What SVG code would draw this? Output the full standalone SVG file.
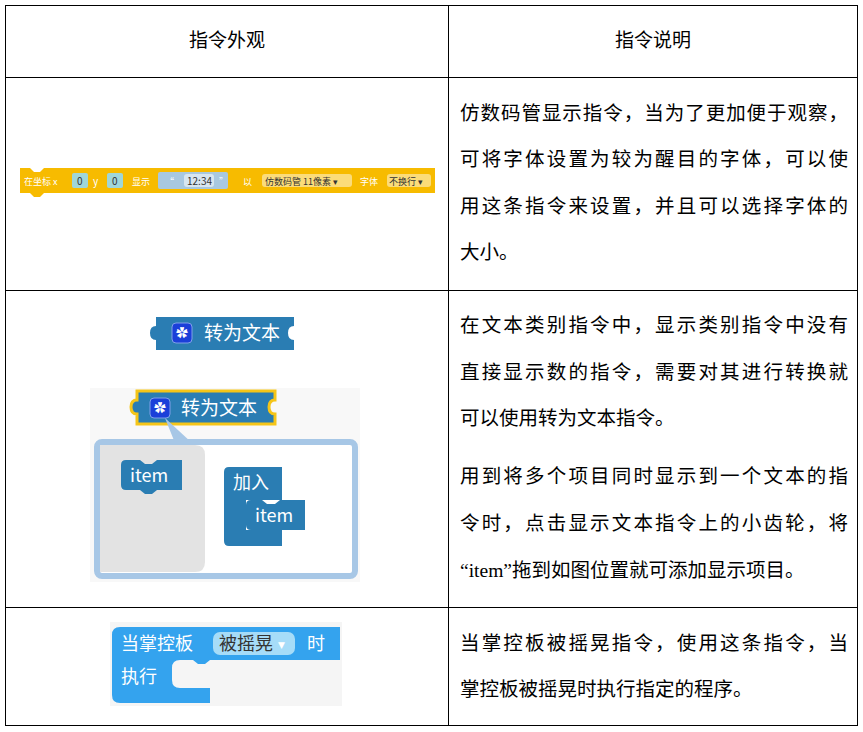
<svg xmlns="http://www.w3.org/2000/svg" width="863" height="732" viewBox="0 0 863 732">
<style>
.t{font-family:"Liberation Serif","Noto Sans CJK SC",serif;font-size:19.5px;fill:#000}
.h{font-family:"Liberation Serif","Noto Sans CJK SC",serif;font-size:19px;fill:#000;text-anchor:middle}
.w{font-family:"Noto Sans CJK SC",sans-serif;fill:#fff}
.k{font-family:"Noto Sans CJK SC",sans-serif;fill:#333}
.ln{stroke:#000;stroke-width:1;fill:none}
.b2{fill:#2a7db3}
</style>
<rect width="863" height="732" fill="#fff"/>
<g id="table">
<rect x="5.5" y="5.5" width="852" height="720" class="ln"/>
<line x1="448.5" y1="5" x2="448.5" y2="726" class="ln"/>
<line x1="5" y1="77.5" x2="858" y2="77.5" class="ln"/>
<line x1="5" y1="290.5" x2="858" y2="290.5" class="ln"/>
<line x1="5" y1="607.5" x2="858" y2="607.5" class="ln"/>
</g>
<g id="header">
<text class="h" x="227" y="47">指令外观</text>
<text class="h" x="653" y="47">指令说明</text>
</g>
<g id="row1-text">
<text class="t" x="460" y="120" textLength="388">仿数码管显示指令，当为了更加便于观察，</text>
<text class="t" x="460" y="166" textLength="388">可将字体设置为较为醒目的字体，可以使</text>
<text class="t" x="460" y="213" textLength="388">用这条指令来设置，并且可以选择字体的</text>
<text class="t" x="460" y="259">大小。</text>
</g>
<g id="row2-text">
<text class="t" x="460" y="332" textLength="388">在文本类别指令中，显示类别指令中没有</text>
<text class="t" x="460" y="379" textLength="388">直接显示数的指令，需要对其进行转换就</text>
<text class="t" x="460" y="425">可以使用转为文本指令。</text>
<text class="t" x="460" y="483" textLength="388">用到将多个项目同时显示到一个文本的指</text>
<text class="t" x="460" y="530" textLength="388">令时，点击显示文本指令上的小齿轮，将</text>
<text class="t" x="460" y="577">“item”拖到如图位置就可添加显示项目。</text>
</g>
<g id="row3-text">
<text class="t" x="460" y="650" textLength="388">当掌控板被摇晃指令，使用这条指令，当</text>
<text class="t" x="460" y="696">掌控板被摇晃时执行指定的程序。</text>
</g>
<g id="block-display">
<path d="M20,168 H30 L34,172 H40 L44,168 H435 V193 H44 L40,197 H34 L30,193 H20 Z" fill="#f7bb00"/>
<text class="w" x="24" y="185" font-size="9">在坐标 x</text>
<rect x="72" y="173" width="16" height="15" rx="2" fill="#9fd6d9"/>
<text class="k" x="77" y="185" font-size="10">0</text>
<text class="w" x="93" y="185" font-size="10">y</text>
<rect x="107" y="173" width="16" height="15" rx="2" fill="#9fd6d9"/>
<text class="k" x="112" y="185" font-size="10">0</text>
<text class="w" x="132" y="185" font-size="9">显示</text>
<rect x="158" y="172" width="70" height="17" rx="2" fill="#a8c8e0"/>
<text class="w" x="165" y="185" font-size="9">“</text>
<rect x="184" y="174" width="30" height="13" rx="3" fill="#d8e6f0"/>
<text class="k" x="187" y="185" font-size="10">12:34</text>
<text class="w" x="219" y="185" font-size="9">”</text>
<text class="w" x="243" y="185" font-size="9">以</text>
<rect x="262" y="174" width="90" height="13" rx="3" fill="#fbdc7a"/>
<text class="k" x="265" y="185" font-size="9">仿数码管 11像素 ▾</text>
<text class="w" x="360" y="185" font-size="9">字体</text>
<rect x="387" y="174" width="44" height="13" rx="3" fill="#fbdc7a"/>
<text class="k" x="389" y="185" font-size="9">不换行 ▾</text>
</g>
<g id="block-totext">
<path d="M160,317 H298 V326 Q292,326 292,333 Q292,340 298,340 V350 H160 V340 Q154,340 154,333 Q154,326 160,326 Z" class="b2" transform="translate(-4,0)"/>
<rect x="172" y="323" width="20" height="20" rx="4" fill="#1b3fd9" stroke="#7fa0e8"/>
<text class="w" x="176" y="338" font-size="12">✿</text>
<text class="w" x="204" y="340" font-size="19">转为文本</text>
</g>
<g id="mutator">
<rect x="90" y="388" width="270" height="194" fill="#f8f8f8"/>
<path d="M137,391 H275 V400 Q269,400 269,407 Q269,414 275,414 V424 H137 V414 Q131,414 131,407 Q131,400 137,400 Z" class="b2" stroke="#f5c518" stroke-width="3"/>
<rect x="150" y="398" width="20" height="20" rx="4" fill="#1b3fd9" stroke="#7fa0e8"/>
<text class="w" x="154" y="413" font-size="12">✿</text>
<text class="w" x="181" y="415" font-size="19">转为文本</text>
<path d="M165,418 L192,443 H175 Z" fill="#a7c7e6"/>
<rect x="97" y="442" width="258" height="134" rx="5" fill="#fff" stroke="#a7c7e6" stroke-width="6"/>
<path d="M100,445 H195 Q205,445 205,455 V562 Q205,572 195,572 H100 Z" fill="#e3e3e3"/>
<path d="M126,460 H140 L145,464 H152 L157,460 H182 V490 H157 L152,494 H145 L140,490 H126 Q121,490 121,485 V465 Q121,460 126,460 Z" class="b2"/>
<text class="w" x="130" y="482" font-size="18">item</text>
<path d="M229,467 H282 V500 H246 V530 H282 V546 H229 Q224,546 224,541 V472 Q224,467 229,467 Z" class="b2"/>
<text class="w" x="233" y="489" font-size="18">加入</text>
<path d="M251,500 H262 L267,504 H275 L280,500 H305 V530 H251 Q246,530 246,525 V505 Q246,500 251,500 Z" class="b2"/>
<text class="w" x="255" y="522" font-size="18">item</text>
</g>
<g id="block-shake">
<rect x="110" y="622" width="232" height="84" fill="#f5f5f5"/>
<path d="M120,627 H340 V660 H210 L205,664 H198 L193,660 H180 Q172,660 172,668 V680 Q172,688 180,688 H210 V703 H120 Q112,703 112,695 V635 Q112,627 120,627 Z" fill="#34a3ee"/>
<text class="w" x="121" y="650" font-size="18">当掌控板</text>
<rect x="213" y="632" width="82" height="23" rx="7" fill="#a6dcf8"/>
<text class="k" x="219" y="650" font-size="18" fill="#222">被摇晃</text>
<text x="278" y="648" font-size="9" fill="#fff" font-family="DejaVu Sans">▼</text>
<text class="w" x="307" y="650" font-size="18">时</text>
<text class="w" x="121" y="683" font-size="18">执行</text>
</g>
</svg>
